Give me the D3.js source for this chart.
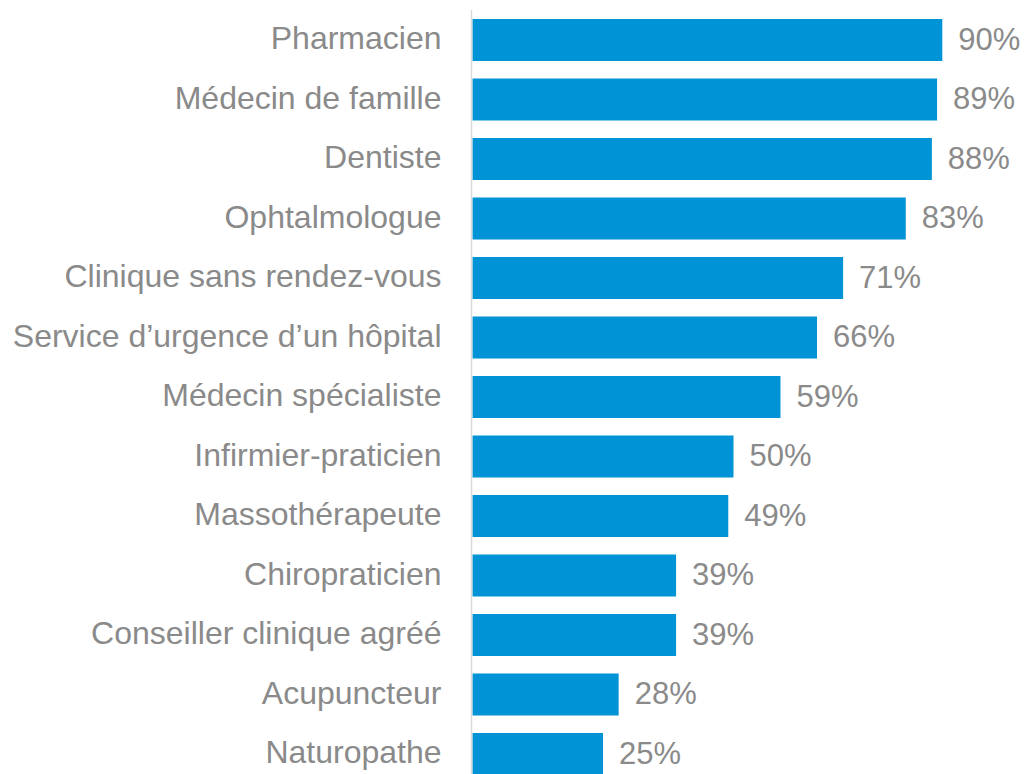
<!DOCTYPE html>
<html>
<head>
<meta charset="utf-8">
<script src="https://cdn.jsdelivr.net/npm/d3@7"></script>
<style>
  html, body { margin: 0; padding: 0; background: #fff; }
  svg { display: block; }
  text { font-family: "Liberation Sans", Arial, sans-serif; fill: #8a8a8a; }
</style>
</head>
<body>
<div id="chart"></div>
<script>
// categories top to bottom, share in %
const categories = [
  'Pharmacien', 'Médecin de famille', 'Dentiste', 'Ophtalmologue',
  'Clinique sans rendez-vous', 'Service d\u2019urgence d\u2019un hôpital',
  'Médecin spécialiste', 'Infirmier-praticien', 'Massothérapeute',
  'Chiropraticien', 'Conseiller clinique agréé', 'Acupuncteur', 'Naturopathe'
];
const values = [90, 89, 88, 83, 71, 66, 59, 50, 49, 39, 39, 28, 25];

const W = 1028, H = 774;
const AXIS_X = 472.5;

const svg = d3.select('#chart').append('svg')
  .attr('width', W).attr('height', H);

const x = d3.scaleLinear().domain([0, 100]).range([AXIS_X, AXIS_X + 522]);
const y = d3.scaleBand().domain(categories)
  .range([10.25, 10.25 + 13 * 59.5])
  .paddingInner(0.294).paddingOuter(0.147);

const rows = categories.map((c, i) => ({ cat: c, val: values[i] }));

// bars
svg.selectAll('rect.bar').data(rows).join('rect')
  .attr('class', 'bar')
  .attr('x', x(0))
  .attr('y', d => y(d.cat))
  .attr('width', d => x(d.val) - x(0))
  .attr('height', y.bandwidth())
  .attr('fill', '#0094d6');

// category axis line
svg.append('line')
  .attr('x1', AXIS_X - 1).attr('x2', AXIS_X - 1)
  .attr('y1', 10).attr('y2', H)
  .attr('stroke', '#d9d9d9').attr('stroke-width', 1.5);

// category labels
svg.selectAll('text.cat').data(rows).join('text')
  .attr('class', 'cat')
  .attr('x', AXIS_X - 31)
  .attr('y', d => y(d.cat) + y.bandwidth() / 2)
  .attr('dy', '0.29em')
  .attr('text-anchor', 'end')
  .style('font-size', '32px')
  .text(d => d.cat);

// value labels
svg.selectAll('text.val').data(rows).join('text')
  .attr('class', 'val')
  .attr('x', d => x(d.val) + 16)
  .attr('y', d => y(d.cat) + y.bandwidth() / 2)
  .attr('dy', '0.32em')
  .style('font-size', '31px')
  .text(d => d.val + '%');
</script>
</body>
</html>
